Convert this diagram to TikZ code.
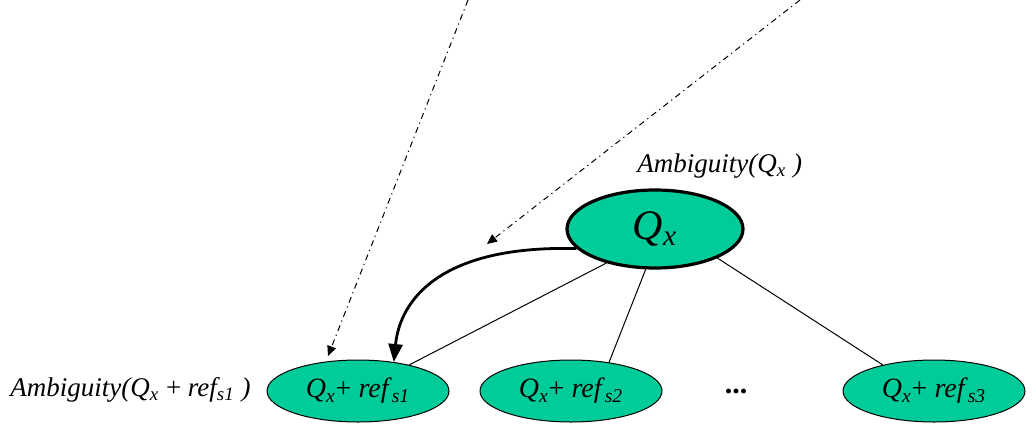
\documentclass[tikz,border=0pt]{standalone}
\usepackage{fontspec}
\setmainfont{Liberation Serif}
\usetikzlibrary{arrows.meta, shapes.geometric}
\definecolor{nodegreen}{RGB}{0,204,153}
\newcommand{\Qx}{\textit{Q}\textsubscript{\textit{x}}}
\newcommand{\refsub}[1]{\textit{ref}\textsubscript{\textit{s#1}}}

\begin{document}
\begin{tikzpicture}[x=0.5pt, y=-0.5pt,
	topnode/.style={ellipse, draw, line width=1.6pt, fill=nodegreen, minimum width=88pt, minimum height=39pt, inner sep=0pt, font=\fontsize{21}{25}\selectfont\itshape},
	refnode/.style={ellipse, draw, line width=0.5pt, fill=nodegreen, minimum width=91pt, minimum height=31pt, inner sep=0pt, font=\fontsize{14}{16}\selectfont},
	amblabel/.style={anchor=west, inner sep=0pt, font=\fontsize{13.5}{16}\selectfont\itshape},
	prob/.style={line width=0.5pt, dash pattern=on 3pt off 2pt on 0.6pt off 2pt, -{Triangle[length=5pt, width=4.5pt]}}]
	\useasboundingbox (0,0) rectangle (1032,423);
	
	% 绘制上面的节点
	\node[topnode] (qx) at (655,229) {\Qx};
	\node[amblabel] (ambqx) at (637,166) {Ambiguity(\Qx\ )};
	
	% 绘制下面的节点
	\node[refnode] (r1) at (358,391) {\Qx{\upshape+} \refsub{1}};
	\node[refnode] (r2) at (571,391) {\Qx{\upshape+} \refsub{2}};
	\node[refnode] (r3) at (934,391) {\Qx{\upshape+} \refsub{3}};
	\node[font=\fontsize{15}{16}\selectfont\bfseries] (dots) at (736,391) {...};
	\node[amblabel] (ambr1) at (10,390) {Ambiguity(\Qx\ {\upshape+} \refsub{1}\ )};
	
	% 绘制连线
	\draw[line width=0.5pt] (qx.215) -- (r1.27);
	\draw[line width=0.5pt] (qx.257) -- (r2.37);
	\draw[line width=0.5pt] (qx.335) -- (r3.153);
	
	% 绘制粗箭头
	\draw[line width=1.4pt, -{Triangle[length=9pt, width=7pt]}] (qx.194) .. controls (440,245) and (400,300) .. (r1.39);
	
	% 绘制点划线箭头
	\coordinate (top1) at (468,0);
	\coordinate (top2) at (800,0);
	\coordinate (tip1) at (328,356);
	\coordinate (tip2) at (487,244);
	\draw[prob] (top1) -- (tip1);
	\draw[prob] (top2) -- (tip2);
\end{tikzpicture}
\end{document}
